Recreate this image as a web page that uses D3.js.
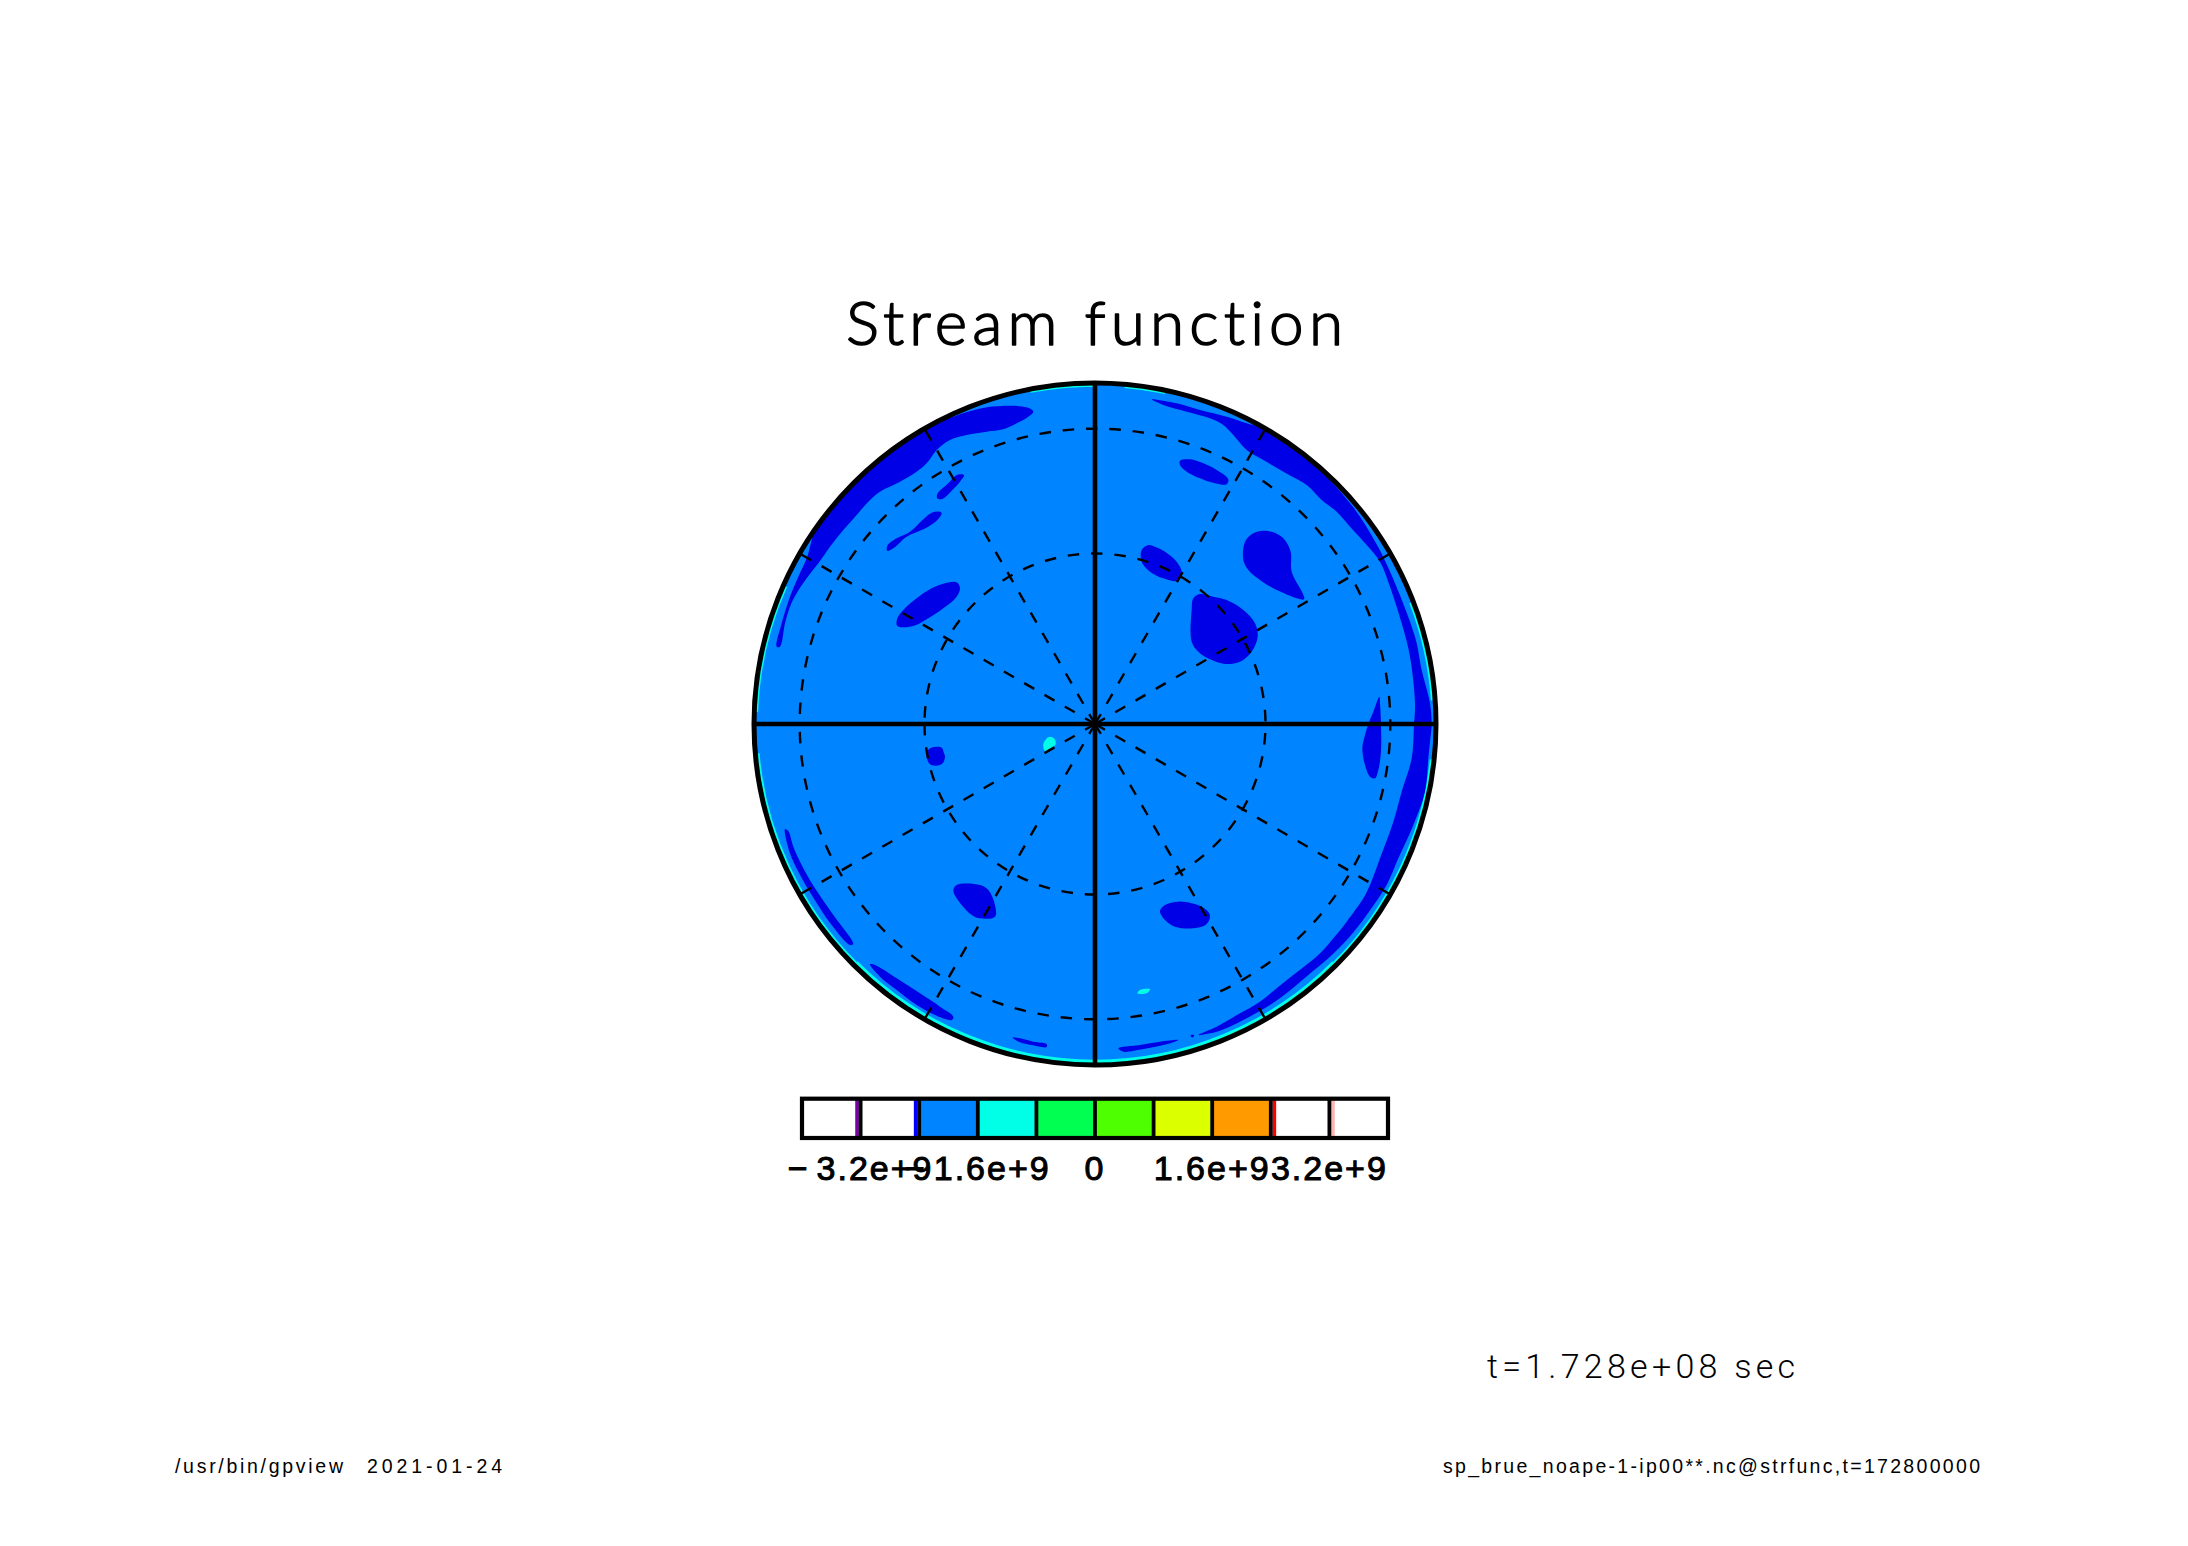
<!DOCTYPE html>
<html>
<head>
<meta charset="utf-8">
<script src="https://cdn.jsdelivr.net/npm/d3@7"></script>
<style>html,body{margin:0;padding:0;background:#fff}svg{display:block}text{font-variant-ligatures:none}</style>
</head>
<body>
<svg id="chart" width="2188" height="1546"></svg>
<script>
const titleText = "Stream function";
const timeText = "t=1.728e+08 sec";
const footLeft = "/usr/bin/gpview";
const footDate = "2021-01-24";
const footRight = "sp_brue_noape-1-ip00**.nc@strfunc,t=172800000";

const parallels = [30, 60];
const dashedMeridians = [30, 60, 120, 150, 210, 240, 300, 330];

const levelEdges = [-4e9, -3.2e9, -2.4e9, -1.6e9, -0.8e9, 0, 0.8e9, 1.6e9, 2.4e9, 3.2e9, 4e9];
const levelColors = ["#ffffff", "#ffffff", "#0084ff", "#00ffe6", "#00ff50", "#4dff00", "#dcff00", "#ff9b00", "#ffffff", "#ffffff"];
const narrowBands = [[-3.25e9, -3.2e9, "#7a00a8"], [-2.45e9, -2.4e9, "#0000ff"], [2.4e9, 2.45e9, "#ff0000"], [3.2e9, 3.25e9, "#ffb4b4"]];
const tickValues = [-3.2e9, -1.6e9, 0, 1.6e9, 3.2e9];
const tickLabels = ["\u22123.2e+9", "\u22121.6e+9", "0", "1.6e+9", "3.2e+9"];

// Map coordinates on the projected disc; the pole is at 0,0 and the rim at 1023.
const deepRegions = [
  [[-955,232],[-940,302],[-915,382],[-890,442],[-865,497],[-835,592],[-758,687],[-665,777],[-584,840],[-510,887],[-425,922],[-325,950],[-205,950],[-185,937],[-200,922],[-235,902],[-275,884],[-325,877],[-385,867],[-435,852],[-475,822],[-505,782],[-535,757],[-585,727],[-645,697],[-680,667],[-715,627],[-755,582],[-795,532],[-830,482],[-865,437],[-895,392],[-915,352],[-930,302],[-945,232]],
  [[-393,747],[-415,747],[-440,722],[-473,690],[-473,677],[-458,675],[-430,700],[-405,727]],
  [[-465,637],[-490,634],[-520,610],[-555,577],[-595,557],[-623,535],[-623,519],[-605,527],[-565,562],[-515,584],[-475,610],[-460,632]],
  [[-415,425],[-450,422],[-490,407],[-535,377],[-575,342],[-593,317],[-593,294],[-545,294],[-505,314],[-455,347],[-415,382],[-405,407]],
  [[170,974],[245,962],[315,942],[395,922],[455,902],[510,884],[654,780],[775,650],[841,546],[883,462],[960,262],[980,162],[1005,62],[1010,-3],[1005,-53],[1000,-103],[990,-203],[955,-303],[910,-403],[875,-483],[815,-573],[760,-643],[700,-703],[640,-753],[580,-803],[525,-843],[445,-888],[370,-922],[310,-933],[365,-908],[435,-868],[495,-833],[545,-793],[590,-757],[640,-718],[680,-683],[715,-643],[755,-593],[805,-523],[825,-483],[855,-403],[895,-293],[920,-203],[950,-103],[957,-3],[960,62],[945,202],[920,302],[885,412],[855,487],[815,537],[765,592],[725,637],[680,672],[635,717],[565,757],[505,792],[455,822],[415,867],[385,897],[345,917],[275,937],[205,957]],
  [[255,790],[285,794],[325,782],[365,762],[400,734],[395,719],[360,722],[315,737],[275,757],[255,777]],
  [[505,580],[475,572],[450,547],[445,492],[460,462],[495,432],[545,402],[627,374],[623,392],[590,457],[587,517],[565,557],[535,575]],
  [[160,537],[140,522],[140,487],[165,457],[205,437],[250,430],[260,457],[245,487],[210,517],[180,532]],
  [[315,390],[295,377],[290,342],[290,247],[310,217],[345,194],[390,180],[435,187],[470,217],[488,262],[480,302],[445,342],[395,372],[355,382]],
  [[853,82],[835,37],[820,0],[810,-33],[802,-73],[810,-123],[825,-158],[840,-163],[850,-138],[858,-83],[858,-3],[855,62]],
  [[-490,-71],[-460,-71],[-453,-88],[-450,-98],[-457,-118],[-475,-125],[-495,-121],[-505,-98],[-503,-81]],
  [[-415,-483],[-345,-483],[-320,-498],[-300,-543],[-300,-578],[-345,-583],[-370,-573],[-400,-543],[-425,-500]],
  [[-930,-315],[-920,-321],[-905,-368],[-880,-423],[-840,-493],[-785,-573],[-725,-660],[-735,-663],[-790,-603],[-850,-513],[-890,-443],[-915,-388]],
  [[-675,-721],[-660,-723],[-595,-763],[-525,-808],[-465,-848],[-425,-878],[-430,-888],[-475,-875],[-535,-843],[-595,-798],[-645,-758]],
  [[-247,-940],[-225,-943],[-185,-953],[-145,-960],[-145,-969],[-190,-963],[-225,-955]],
  [[250,-533],[210,-543],[195,-561],[210,-588],[240,-608],[295,-613],[335,-600],[345,-573],[325,-551],[290,-538]],
  [[250,-948],[195,-953],[135,-963],[70,-973],[85,-983],[145,-975],[215,-961]],
  [[287,-933],[297,-933],[295,-939],[289,-939]]
];
const highRegions = [
  [[-140,-40],[-123,-43],[-118,-61],[-135,-73],[-150,-81],[-155,-61]],
  [[135,-798],[165,-796],[155,-808],[127,-808]]
];
// Rim bands: from bearing, to bearing (degrees), inner edge in map units.
const rimBands = [[96,135,1010],[135,225,1007],[225,265,1010],[272,294,1011],[349,360,1012],[5,12,1012],[69,86,1010]];

const svg = d3.select("#chart");
const x = d3.scaleLinear().domain([-1023, 1023]).range([754, 1436]);
const y = d3.scaleLinear().domain([-1023, 1023]).range([1065, 383]);
const rad = d3.scaleLinear().domain([0, 1023]).range([0, 341]);
const cx = x(0), cy = y(0), R = rad(1023);
const legendX = d3.scaleLinear().domain([-4e9, 4e9]).range([802, 1388]);
const legendTop = 1098.7, legendBottom = 1138;

const defs = svg.append("defs");
defs.append("clipPath").attr("id", "disc").append("circle").attr("cx", cx).attr("cy", cy).attr("r", R);

const field = svg.append("g").attr("clip-path", "url(#disc)");
field.append("circle").attr("cx", cx).attr("cy", cy).attr("r", R).attr("fill", levelColors[2]);

const arc = d3.arc();
field.selectAll("path.rim").data(rimBands).join("path").attr("class", "rim")
  .attr("transform", `translate(${cx},${cy})`)
  .attr("fill", levelColors[3])
  .attr("d", d => arc({innerRadius: rad(d[2]), outerRadius: R, startAngle: d[0]*Math.PI/180, endAngle: d[1]*Math.PI/180}));

const blob = d3.line().x(d => x(d[0])).y(d => y(d[1])).curve(d3.curveCatmullRomClosed.alpha(0.5));
field.selectAll("path.deep").data(deepRegions).join("path").attr("class", "deep")
  .attr("fill", "#0000e6").attr("d", blob);
field.selectAll("path.high").data(highRegions).join("path").attr("class", "high")
  .attr("fill", levelColors[3]).attr("d", blob);

// graticule
const grid = svg.append("g").attr("fill", "none").attr("stroke", "#000");
const meridianEnd = lon => [Math.sin(lon*Math.PI/180)*1023, Math.cos(lon*Math.PI/180)*1023];
grid.selectAll("line.dash").data(dashedMeridians).join("line").attr("class", "dash")
  .attr("x1", cx).attr("y1", cy)
  .attr("x2", d => x(meridianEnd(d)[0])).attr("y2", d => y(meridianEnd(d)[1]))
  .attr("stroke-width", 2.4).attr("stroke-dasharray", "11.5 11.9");
const ring = d => {
  const r = rad(1023*Math.cos(d*Math.PI/180));
  return `M${cx-r},${cy}A${r},${r} 0 1 0 ${cx+r},${cy}A${r},${r} 0 1 0 ${cx-r},${cy}`;
};
grid.selectAll("path.par").data(parallels).join("path").attr("class", "par")
  .attr("d", ring).attr("stroke-width", 2.4)
  .attr("stroke-dasharray", "11.5 11.9")
  .attr("stroke-dashoffset", d => d === 30 ? -8 : 0);
grid.append("line").attr("x1", x(-1023)).attr("x2", x(1023)).attr("y1", cy).attr("y2", cy).attr("stroke-width", 4.4);
grid.append("line").attr("x1", cx).attr("x2", cx).attr("y1", y(1023)).attr("y2", y(-1023)).attr("stroke-width", 4.6);
grid.append("circle").attr("cx", cx).attr("cy", cy).attr("r", R).attr("stroke-width", 5);

// title
svg.append("text").attr("x", 846).attr("y", 345).attr("textLength", 497).attr("lengthAdjust", "spacing")
  .attr("font-family", "Lato").attr("font-weight", 300).attr("font-size", 62)
  .attr("stroke", "#000").attr("stroke-width", 1.5).attr("stroke-linejoin", "round").text(titleText);

// colour bar
const bar = svg.append("g");
bar.selectAll("rect.cell").data(levelColors).join("rect").attr("class", "cell")
  .attr("x", (d, i) => legendX(levelEdges[i])).attr("width", (d, i) => legendX(levelEdges[i+1]) - legendX(levelEdges[i]))
  .attr("y", legendTop).attr("height", legendBottom - legendTop).attr("fill", d => d);
bar.selectAll("rect.narrow").data(narrowBands).join("rect").attr("class", "narrow")
  .attr("x", d => Math.min(legendX(d[0]), legendX(d[1])) + (d[0] < 0 ? -1.7 : 1.7))
  .attr("width", d => Math.abs(legendX(d[1]) - legendX(d[0])))
  .attr("y", legendTop).attr("height", legendBottom - legendTop).attr("fill", d => d[2]);
bar.selectAll("line.sep").data(levelEdges).join("line").attr("class", "sep")
  .attr("x1", d => legendX(d)).attr("x2", d => legendX(d))
  .attr("y1", legendTop).attr("y2", legendBottom).attr("stroke", "#000").attr("stroke-width", 3.8);
bar.append("rect").attr("x", legendX(-4e9)).attr("y", legendTop)
  .attr("width", legendX(4e9) - legendX(-4e9)).attr("height", legendBottom - legendTop)
  .attr("fill", "none").attr("stroke", "#000").attr("stroke-width", 4.2);
bar.selectAll("text.tick").data(tickValues).join("text").attr("class", "tick")
  .attr("x", d => legendX(d)).attr("y", 1180).attr("text-anchor", "middle")
  .attr("font-family", "Liberation Sans").attr("font-size", 34).attr("font-weight", 400)
  .attr("stroke", "#000").attr("stroke-width", 1)
  .attr("letter-spacing", 2)
  .attr("dx", (d, i) => tickLabels[i].length === 7 ? "0 7" : null)
  .text((d, i) => tickLabels[i]);

// notes
const note = (txt, x0, base, size, len, family, weight) => svg.append("text").attr("x", x0).attr("y", base)
  .attr("font-family", family).attr("font-size", size).attr("font-weight", weight)
  .attr("textLength", len).attr("lengthAdjust", "spacing").text(txt);
note(timeText, 1487, 1378, 34, 308, "Roboto", 300);
note(footLeft, 175, 1473, 19.5, 168, "Liberation Sans", 400);
note(footDate, 367, 1473, 19.5, 135, "Liberation Sans", 400);
note(footRight, 1443, 1473, 19.5, 537, "Liberation Sans", 400);
</script>
</body>
</html>
